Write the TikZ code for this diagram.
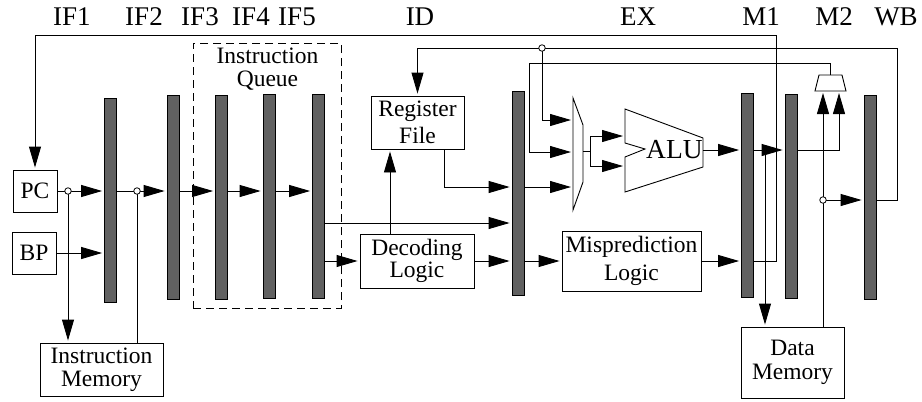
\documentclass[tikz,border=0pt]{standalone}
\usepackage{fontspec}
\setmainfont{Liberation Serif}
\usetikzlibrary{arrows.meta}
\begin{document}
\begin{tikzpicture}[x=1pt,y=-1pt, line width=0.9pt,
  arr/.style={-{Triangle[length=21pt,width=12pt]}, shorten >=2pt},
  latch/.style={draw, fill=black!62, minimum width=12pt, minimum height=204pt, inner sep=0pt, line width=0.8pt},
  box/.style={draw, fill=white, inner sep=0pt, align=center, font=\fontsize{23.5}{25}\selectfont},
  stage/.style={anchor=base, font=\fontsize{27}{30}\selectfont},
  tap/.style={draw, fill=white, circle, inner sep=0pt, minimum size=6.5pt, line width=0.8pt},
]
\useasboundingbox (0,0) rectangle (922,402);

% pipeline stage names
\node[stage] (sIF1) at (72,25) {IF1};
\node[stage] (sIF2) at (144,25) {IF2};
\node[stage] (sIF3) at (200,25) {IF3};
\node[stage] (sIF4) at (251,25) {IF4};
\node[stage] (sIF5) at (297,25) {IF5};
\node[stage] (sID) at (420,25) {ID};
\node[stage] (sEX) at (638,25) {EX};
\node[stage] (sM1) at (761,25) {M1};
\node[stage] (sM2) at (834,25) {M2};
\node[stage] (sWB) at (896,25) {WB};

% instruction queue outline
\node[draw, dash pattern=on 8pt off 5pt, minimum width=148pt, minimum height=265pt, inner sep=0pt] (queue) at (267,175.5) {};
\node[align=center, font=\fontsize{23.5}{23}\selectfont, inner sep=0pt] (qlabel) at (267.5,69) {Instruction\\Queue};

% pipeline latches
\node[latch] (b1) at (110.5,200) {};
\node[latch] (b2) at (173,197) {};
\node[latch] (b3) at (221.5,197) {};
\node[latch] (b4) at (269,196.5) {};
\node[latch] (b5) at (318.5,196) {};
\node[latch] (bID) at (518,193) {};
\node[latch] (bM1) at (747.5,195) {};
\node[latch] (bM2) at (791,196) {};
\node[latch] (bWB) at (870,197.5) {};

% functional blocks
\node[box, minimum width=44pt, minimum height=42pt] (pc) at (35,191) {PC};
\node[box, minimum width=44pt, minimum height=42pt] (bp) at (34,253) {BP};
\node[box, minimum width=123pt, minimum height=53pt, font=\fontsize{23.5}{23}\selectfont] (imem) at (101.5,369.5) {Instruction\\Memory};
\node[box, minimum width=93pt, minimum height=53pt, font=\fontsize{23.5}{27}\selectfont] (regf) at (417.5,122.5) {Register\\File};
\node[box, minimum width=114pt, minimum height=54pt, font=\fontsize{23.5}{22}\selectfont] (dec) at (417,261) {Decoding\\Logic};
\node[box, minimum width=139pt, minimum height=60pt, font=\fontsize{23.5}{28}\selectfont] (misp) at (631.5,261) {Misprediction\\Logic};
\node[box, minimum width=103pt, minimum height=71pt, font=\fontsize{23.5}{24}\selectfont] (dmem) at (792.5,362.5) {Data\\Memory};

% operand multiplexer
\draw[fill=white] (573,98) -- (583,125) -- (583,182) -- (573,210) -- cycle;
\coordinate (mxA) at (573,120);
\coordinate (mxB) at (573,152);
\coordinate (mxC) at (573,187);
\coordinate (mxO) at (583,151);
\coordinate (mxS) at (590,151);

% ALU
\draw (625,109) -- (703,138) -- (703,167) -- (625,192) -- (625,157) -- (645,149) -- (625,143) -- cycle;
\node[font=\fontsize{27.5}{30}\selectfont, inner sep=0pt] (alu) at (674.5,150) {ALU};
\coordinate (aluA) at (625,136);
\coordinate (aluB) at (625,166);
\coordinate (aluO) at (703,150);

% write-back multiplexer
\draw[fill=white] (819,75) -- (842,75) -- (846,91) -- (815,91) -- cycle;
\coordinate (m2A) at (823,91);
\coordinate (m2B) at (839,91);
\coordinate (m2O) at (830,75);

% wire levels and columns
\coordinate (L35) at (0,35);
\coordinate (L48) at (0,48);
\coordinate (L63) at (0,63);
\coordinate (L187) at (0,187);
\coordinate (L223) at (0,223);
\coordinate (X390) at (390,0);
\coordinate (X444) at (444,0);
\coordinate (X529) at (529,0);
\coordinate (X765) at (765,0);
\coordinate (X776) at (776,0);
\coordinate (X897) at (897,0);
\coordinate (tPC) at (68,191);
\coordinate (tIM) at (137,191);
\coordinate (tWB) at (542,48);
\coordinate (tDM) at (823,200);

% fetch
\draw[arr] (pc.east) -- (b1.west |- pc.east);
\draw[arr] (tPC) -- (imem.north -| tPC);
\draw[arr] (bp.east) -- (b1.west |- bp.east);
\draw[arr] (b1.east |- pc.east) -- (b2.west |- pc.east);
\draw (imem.north -| tIM) -- (tIM);
\draw[arr] (b2.east |- pc.east) -- (b3.west |- pc.east);
\draw[arr] (b3.east |- pc.east) -- (b4.west |- pc.east);
\draw[arr] (b4.east |- pc.east) -- (b5.west |- pc.east);

% decode
\draw[arr] (b5.east |- L223) -- (bID.west |- L223);
\draw[arr] (b5.east |- dec.west) -- (dec.west);
\draw[arr] (dec.north -| X390) -- (regf.south -| X390);
\draw[arr] (regf.south -| X444) |- (bID.west |- L187);
\draw[arr] (dec.east) -- (bID.west |- dec.east);

% execute
\draw[arr] (bID.east |- L187) -- (mxC);
\draw[arr] (bID.east |- misp.west) -- (misp.west);
\draw[arr] (misp.east) -- (bM1.west |- misp.east);
\draw[arr] (bM1.east |- misp.east) -| (X776 |- L35) -| (pc.north);
\draw (mxO) -- (mxS);
\draw[arr] (mxS) |- (aluA);
\draw[arr] (mxS) |- (aluB);
\draw[arr] (aluO) -- (bM1.west |- aluO);

% memory and write-back
\draw[arr] (bM1.east |- aluO) -- (bM2.west |- aluO);
\draw[arr] (X765 |- aluO) -- (dmem.north -| X765);
\draw[arr] (bM2.east |- aluO) -| (m2B);
\draw[arr] (dmem.north -| m2A) -- (m2A);
\draw[arr] (tDM) -- (bWB.west |- tDM);
\draw[arr] (bWB.east |- tDM) -| (X897 |- L48) -| (regf.north);
\draw[arr] (tWB) |- (mxA);
\draw[arr] (m2O) |- (X529 |- L63) |- (mxB);

% wire taps
\node[tap] (dPC) at (tPC) {};
\node[tap] (dIM) at (tIM) {};
\node[tap] (dWB) at (tWB) {};
\node[tap] (dDM) at (tDM) {};
\end{tikzpicture}
\end{document}
